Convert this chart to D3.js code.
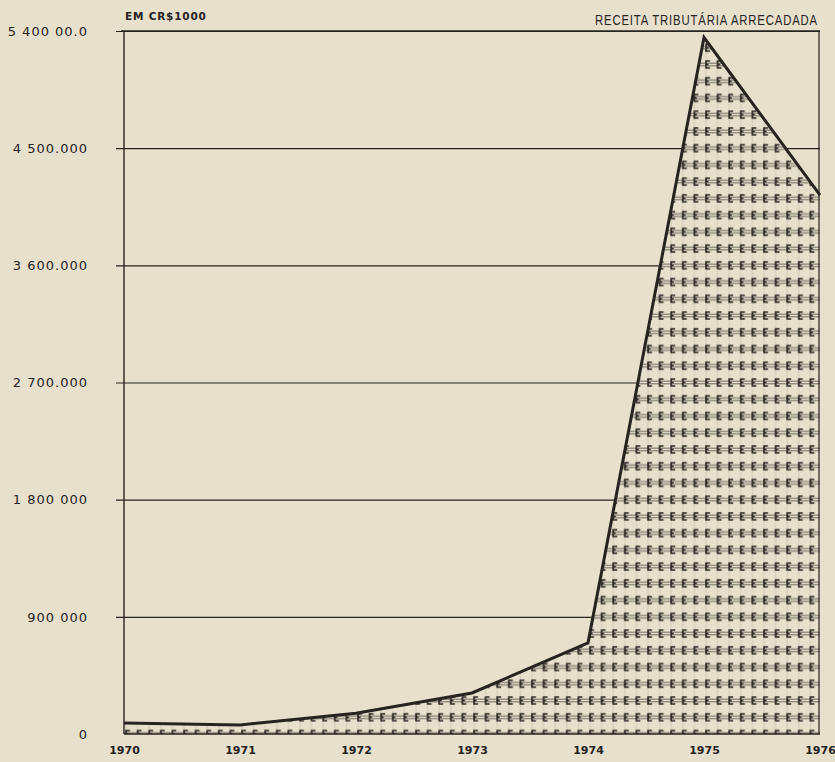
<!DOCTYPE html>
<html>
<head>
<meta charset="utf-8">
<script src="https://cdn.jsdelivr.net/npm/d3@7"></script>
<style>
  html, body { margin: 0; padding: 0; background: #e6e0cc; }
  svg { display: block; }
</style>
</head>
<body>
<svg id="chart" width="835" height="762"></svg>
<script>
// ---- data ----
const years = ["1970", "1971", "1972", "1973", "1974", "1975", "1976"];
const receita = [85000, 70000, 160000, 315000, 700000, 5350000, 4140000];
const yTickValues = [0, 900000, 1800000, 2700000, 3600000, 4500000, 5400000];
const yTickLabels = ["0", "900 000", "1 800 000", "2 700.000", "3 600.000", "4 500.000", "5 400 00.0"];
const unitLabel = "EM CR$1000";
const titleText = "RECEITA TRIBUTÁRIA ARRECADADA";

// ---- layout ----
const W = 835, H = 762;
const pL = 124, pR = 820, pT = 31, pB = 734;
const ink = "#27231f";
const bg = "#e6e0cc";

const svg = d3.select("#chart");
svg.append("rect").attr("width", W).attr("height", H).attr("fill", bg);

const x = d3.scalePoint().domain(years).range([pL, pR]);
const y = d3.scaleLinear().domain([0, 5400000]).range([pB, pT]);

// ---- pattern ----
const rowH = (y(0) - y(900000)) / 7;
const colW = (x("1971") - x("1970")) / 10;
const defs = svg.append("defs");
const pat = defs.append("pattern")
  .attr("id", "hatch")
  .attr("patternUnits", "userSpaceOnUse")
  .attr("x", pL)
  .attr("y", pB - rowH / 2)
  .attr("width", colW)
  .attr("height", rowH);
pat.append("rect").attr("width", colW).attr("height", rowH).attr("fill", bg);
const cy = rowH / 2;
pat.append("line").attr("x1", 2).attr("x2", 2).attr("y1", 0).attr("y2", rowH)
  .attr("stroke", "#8a8478").attr("stroke-width", 0.6).attr("opacity", 0.4);
pat.append("line").attr("x1", 0).attr("x2", colW).attr("y1", cy - 1.3).attr("y2", cy - 1.3)
  .attr("stroke", "#3a3530").attr("stroke-width", 0.7);
pat.append("line").attr("x1", 0).attr("x2", colW).attr("y1", cy + 1.3).attr("y2", cy + 1.3)
  .attr("stroke", "#3a3530").attr("stroke-width", 0.7);
pat.append("path")
  .attr("d", `M6,${cy - 3.4} H2 V${cy + 3.4} H6 M2,${cy} H4.5`)
  .attr("fill", "none").attr("stroke", ink).attr("stroke-width", 1.6);

// ---- gridlines + y axis ----
const yAxis = d3.axisLeft(y)
  .tickValues(yTickValues)
  .tickFormat((d, i) => yTickLabels[i])
  .tickSize(8)
  .tickPadding(28);
const gy = svg.append("g").attr("transform", `translate(${pL},0)`).call(yAxis);
gy.select(".domain").remove();
gy.selectAll(".tick line")
  .attr("x1", -8).attr("x2", pR - pL)
  .attr("stroke", ink).attr("stroke-width", 1.1);
gy.selectAll(".tick text")
  .attr("fill", ink)
  .style("font-family", "'DejaVu Sans', sans-serif")
  .style("font-size", "13px")
  .style("letter-spacing", "1px");
gy.selectAll(".tick").filter(d => d === 0).select("line").remove();

// ---- area ----
const pts = years.map((yr, i) => ({ yr, v: receita[i] }));
const area = d3.area().x(d => x(d.yr)).y0(y(0)).y1(d => y(d.v));
svg.append("path").datum(pts).attr("d", area).attr("fill", "url(#hatch)");
const line = d3.line().x(d => x(d.yr)).y(d => y(d.v));
svg.append("path").datum(pts).attr("d", line)
  .attr("fill", "none").attr("stroke", ink).attr("stroke-width", 3).attr("stroke-linejoin", "miter");

// frame
svg.append("line").attr("x1", pL).attr("x2", pL).attr("y1", pT).attr("y2", pB)
  .attr("stroke", ink).attr("stroke-width", 1.4);
svg.append("line").attr("x1", pL - 3).attr("x2", pR).attr("y1", pT).attr("y2", pT)
  .attr("stroke", ink).attr("stroke-width", 1.4);
svg.append("line").attr("x1", pR - 1).attr("x2", pR - 1).attr("y1", pT).attr("y2", pB)
  .attr("stroke", ink).attr("stroke-width", 1.2);
svg.append("line").attr("x1", pL).attr("x2", pR).attr("y1", pB).attr("y2", pB)
  .attr("stroke", ink).attr("stroke-width", 1.4);

// ---- x axis ----
const xAxis = d3.axisBottom(x).tickSize(0).tickPadding(12);
const gx = svg.append("g").attr("transform", `translate(0,${pB})`).call(xAxis);
gx.select(".domain").remove();
gx.selectAll(".tick text")
  .attr("fill", ink)
  .style("font-family", "'DejaVu Sans', sans-serif")
  .style("font-weight", "bold")
  .style("font-size", "11px");

// ---- titles ----
svg.append("text").attr("x", pL + 1).attr("y", 20)
  .attr("fill", ink)
  .style("font-family", "'DejaVu Sans', sans-serif")
  .style("font-weight", "bold")
  .style("font-size", "10.5px")
  .style("letter-spacing", "0.8px")
  .text(unitLabel);
svg.append("text")
  .attr("transform", `translate(${pR - 2},25) scale(0.78,1)`)
  .attr("text-anchor", "end")
  .attr("fill", ink)
  .style("font-family", "'Liberation Sans', sans-serif")
  .style("font-size", "14.5px")
  .style("letter-spacing", "1.1px")
  .text(titleText);
</script>
</body>
</html>
